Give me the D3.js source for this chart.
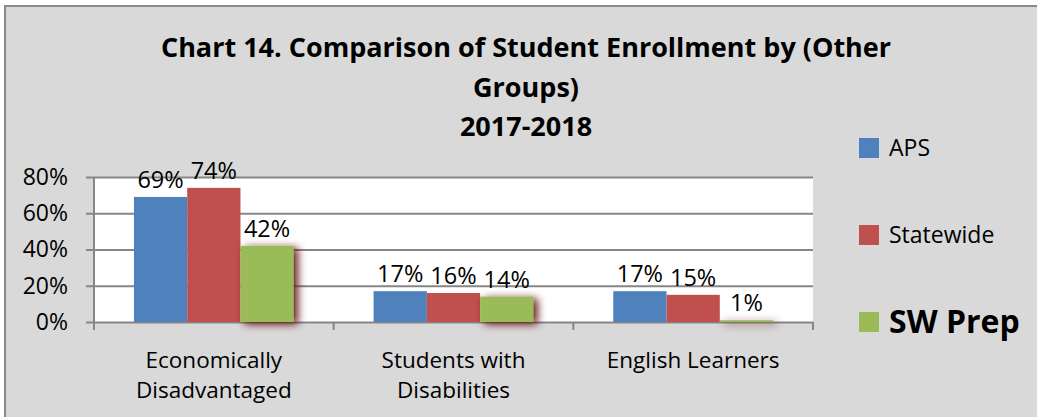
<!DOCTYPE html>
<html>
<head>
<meta charset="utf-8">
<script src="https://cdn.jsdelivr.net/npm/d3@7"></script>
<style>
  html, body { margin: 0; padding: 0; background: #fff; }
  svg { display: block; font-family: "Open Sans", sans-serif; }
</style>
</head>
<body>
<script>
// chart data
const categories = ["Economically\nDisadvantaged", "Students with\nDisabilities", "English Learners"];
const seriesNames = ["APS", "Statewide", "SW Prep"];
const apsValues = [0.69, 0.17, 0.17];
const statewideValues = [0.74, 0.16, 0.15];
const swPrepValues = [0.42, 0.14, 0.01];
const yTicks = [0, 0.2, 0.4, 0.6, 0.8];
const titleLines = ["Chart 14. Comparison of Student Enrollment by (Other", "Groups)", "2017-2018"];

const colors = ["#4f81bd", "#c0504d", "#9bbb59"];
const seriesValues = [apsValues, statewideValues, swPrepValues];

const width = 1037, height = 417;
const plot = { left: 94, right: 813, top: 177, bottom: 322 };

const svg = d3.select("body")
  .append("svg")
  .attr("xmlns", "http://www.w3.org/2000/svg")
  .attr("width", width)
  .attr("height", height);

// shadow for the SW Prep bars
const defs = svg.append("defs");
const shadow = defs.append("filter")
  .attr("id", "bar-shadow")
  .attr("x", "-40%").attr("y", "-40%")
  .attr("width", "180%").attr("height", "180%");
shadow.append("feDropShadow")
  .attr("dx", 4).attr("dy", 2)
  .attr("stdDeviation", 4)
  .attr("flood-color", "#5e0c0c")
  .attr("flood-opacity", 1);

// chart area
svg.append("rect")
  .attr("x", 0).attr("y", 0)
  .attr("width", width).attr("height", height)
  .attr("fill", "#fff");
svg.append("rect")
  .attr("x", 5).attr("y", 6)
  .attr("width", width).attr("height", height)
  .attr("fill", "#d9d9d9")
  .attr("stroke", "#8a8a8a")
  .attr("stroke-width", 2);

// title
const title = svg.append("text")
  .attr("text-anchor", "middle")
  .attr("font-weight", "bold")
  .attr("font-size", 27)
  .attr("fill", "#000");
titleLines.forEach((line, i) => {
  title.append("tspan")
    .attr("x", 526)
    .attr("y", 57 + i * 39.5)
    .text(line);
});

// scales
const y = d3.scaleLinear()
  .domain([0, 0.8])
  .range([plot.bottom, plot.top]);

const x0 = d3.scaleBand()
  .domain(categories)
  .range([plot.left, plot.right]);

const x1 = d3.scaleBand()
  .domain(seriesNames)
  .range([0, x0.bandwidth()])
  .paddingOuter(0.75);

// plot area
svg.append("rect")
  .attr("x", plot.left).attr("y", plot.top)
  .attr("width", plot.right - plot.left)
  .attr("height", plot.bottom - plot.top)
  .attr("fill", "#fff");

// gridlines + y axis
const yAxis = d3.axisLeft(y)
  .tickValues(yTicks)
  .tickFormat(d3.format(".0%"))
  .tickSize(-(plot.right - plot.left + 8))
  .tickPadding(18);

const yAxisG = svg.append("g")
  .attr("class", "y-axis")
  .attr("transform", `translate(${plot.left - 8},0)`)
  .call(yAxis);
yAxisG.select(".domain").remove();
yAxisG.selectAll(".tick line")
  .attr("stroke", "#868686")
  .attr("stroke-width", 2);
yAxisG.selectAll(".tick text")
  .attr("x", -18)
  .attr("font-size", 23)
  .attr("font-family", "Open Sans, sans-serif")
  .attr("fill", "#000");

svg.append("line")
  .attr("x1", plot.left).attr("x2", plot.left)
  .attr("y1", plot.top).attr("y2", plot.bottom)
  .attr("stroke", "#868686")
  .attr("stroke-width", 2);

// category tick marks at band edges
const edges = categories.map(c => x0(c)).concat([plot.right]);
svg.append("g")
  .selectAll("line")
  .data(edges)
  .join("line")
  .attr("x1", d => d).attr("x2", d => d)
  .attr("y1", plot.bottom).attr("y2", plot.bottom + 8)
  .attr("stroke", "#868686")
  .attr("stroke-width", 2);

// bars
const groups = svg.append("g")
  .selectAll("g")
  .data(seriesNames)
  .join("g")
  .attr("fill", (d, i) => colors[i])
  .attr("filter", (d, i) => i === 2 ? "url(#bar-shadow)" : null);

groups.selectAll("rect")
  .data((s, si) => categories.map((c, ci) => ({ cat: c, series: s, value: seriesValues[si][ci] })))
  .join("rect")
  .attr("x", d => x0(d.cat) + x1(d.series))
  .attr("y", d => y(d.value))
  .attr("width", x1.bandwidth())
  .attr("height", d => y(0) - y(d.value));

// data labels
const labelData = [];
seriesNames.forEach((s, si) => {
  categories.forEach((c, ci) => labelData.push({ cat: c, series: s, value: seriesValues[si][ci] }));
});
svg.append("g")
  .selectAll("text")
  .data(labelData)
  .join("text")
  .attr("x", d => x0(d.cat) + x1(d.series) + x1.bandwidth() / 2)
  .attr("y", d => y(d.value) - 9)
  .attr("text-anchor", "middle")
  .attr("font-size", 23.5)
  .attr("fill", "#000")
  .text(d => d3.format(".0%")(d.value));

// category labels
const catLabels = svg.append("g")
  .selectAll("text")
  .data(categories)
  .join("text")
  .attr("text-anchor", "middle")
  .attr("font-size", 22.5)
  .attr("fill", "#000");
catLabels.selectAll("tspan")
  .data(c => c.split("\n").map(t => ({ t, c })))
  .join("tspan")
  .attr("x", d => x0(d.c) + x0.bandwidth() / 2)
  .attr("y", (d, i) => 368 + i * 29.5)
  .text(d => d.t);

// legend
const legend = svg.append("g")
  .selectAll("g")
  .data(seriesNames)
  .join("g")
  .attr("transform", (d, i) => `translate(859,${148 + i * 87})`);
legend.append("rect")
  .attr("x", 0).attr("y", -10)
  .attr("width", 20).attr("height", 20)
  .attr("fill", (d, i) => colors[i]);
legend.append("text")
  .attr("x", 30)
  .attr("y", (d, i) => i === 2 ? 11 : 8)
  .attr("font-size", (d, i) => i === 2 ? 32 : 23)
  .attr("font-weight", (d, i) => i === 2 ? "bold" : "normal")
  .attr("fill", "#000")
  .text(d => d);
</script>
</body>
</html>
